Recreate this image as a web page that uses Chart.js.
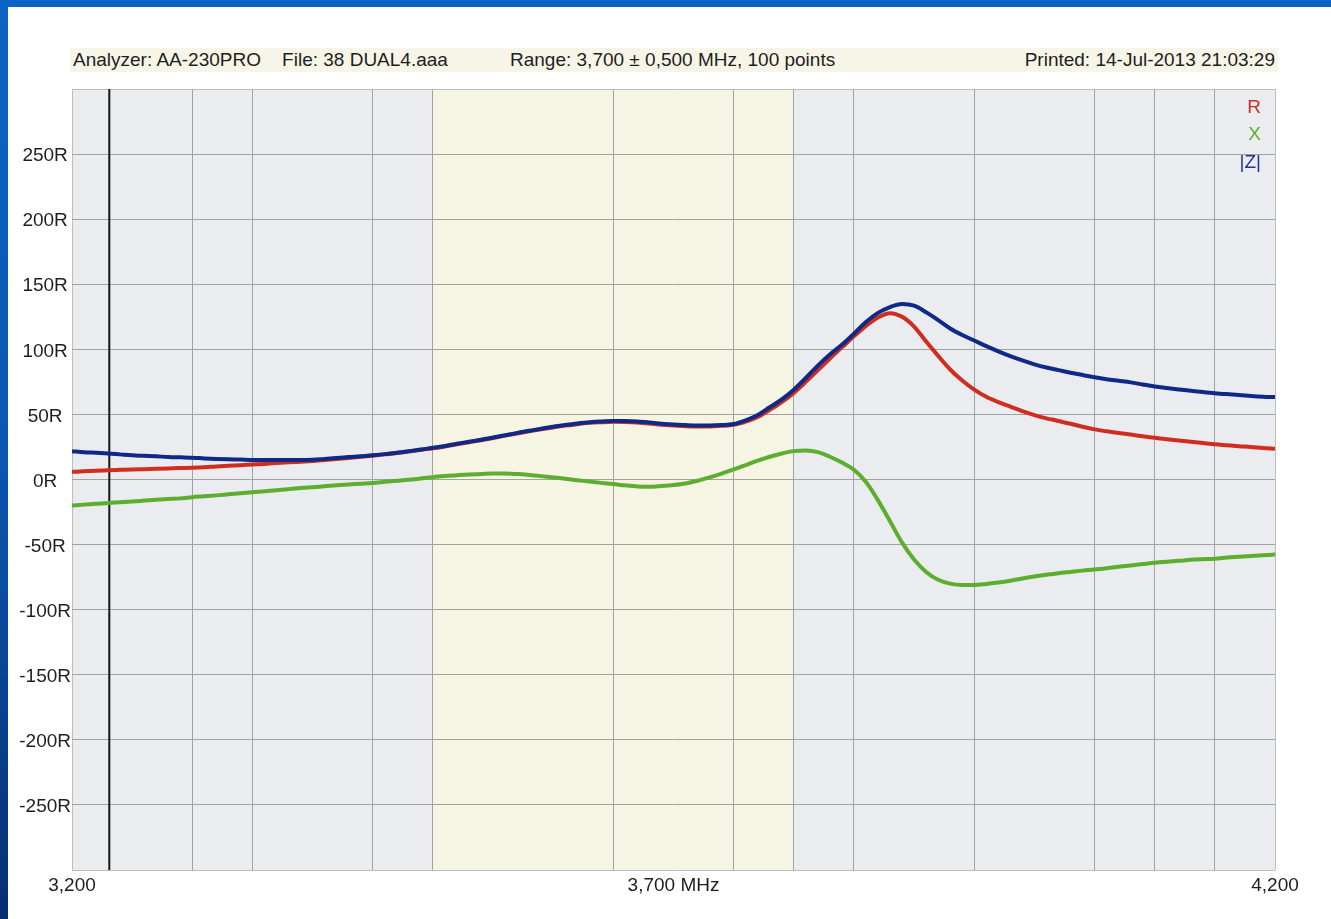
<!DOCTYPE html>
<html>
<head>
<meta charset="utf-8">
<title>AA-230PRO sweep 3.2 - 4.2 MHz</title>
<script src="https://cdn.jsdelivr.net/npm/chart.js@4.4.1/dist/chart.umd.min.js"></script>
<style>
  html, body { margin: 0; padding: 0; width: 1331px; height: 919px; overflow: hidden; }
  body {
    background: linear-gradient(180deg, #0c63c4 0%, #0a58b4 45%, #0a4fa6 60%, #062f72 100%);
    font-family: "Liberation Sans", Arial, sans-serif;
  }
  #panel { position: absolute; left: 8px; top: 7px; width: 1323px; height: 912px; background: #ffffff; }
  #hdr { position: absolute; left: 70px; top: 48px; width: 1208px; height: 24px; background: #f7f5e8; }
  .h { position: absolute; top: 49px; font-size: 19px; line-height: 22px; color: #1e1e1e; white-space: pre; }
  #wrap { position: absolute; left: 0; top: 0; width: 1331px; height: 919px; }
  .lg { position: absolute; right: 70px; font-size: 19px; line-height: 22px; }
</style>
</head>
<body>
<div id="panel"></div>
<div id="hdr"></div>
<div class="h" style="left:73px">Analyzer: AA-230PRO    File: 38 DUAL4.aaa</div>
<div class="h" style="left:510px">Range: 3,700 ± 0,500 MHz, 100 points</div>
<div class="h" style="right:56px">Printed: 14-Jul-2013 21:03:29</div>
<div id="wrap"><canvas id="c" width="1331" height="919"></canvas></div>
<div class="lg" style="top:96px;color:#cf2d1f">R</div>
<div class="lg" style="top:123px;color:#5cae2e">X</div>
<div class="lg" style="top:151px;color:#1b3692">|Z|</div>

<script>
// Sweep definition: 3,200 .. 4,200 kHz in 10 kHz steps
const sweepStart = 3200;
const sweepStep = 10;

// Resistance R (ohms)
const rValues = [
  5.9, 6.3, 6.8, 7.2, 7.4, 7.6, 7.9, 8.2, 8.5, 8.8,
  9.0, 9.4, 10.0, 10.5, 11.0, 11.5, 12.0, 12.6, 13.2, 13.7,
  14.2, 15.0, 15.8, 16.6, 17.4, 18.3, 19.3, 20.3, 21.5, 22.8,
  24.0, 25.4, 27.0, 28.6, 30.2, 31.9, 33.7, 35.4, 37.0, 38.6,
  40.0, 41.4, 42.5, 43.5, 44.0, 44.3, 44.2, 43.8, 43.0, 42.0,
  41.5, 41.0, 40.8, 40.8, 41.2, 42.0, 44.5, 48.0, 53.5, 59.5,
  66.5, 75.0, 84.0, 93.0, 101.5, 110.0, 118.0, 124.5, 127.8, 125.0,
  117.5, 106.0, 95.0, 84.5, 76.0, 69.0, 63.5, 59.5, 56.0, 52.5,
  49.5, 47.0, 45.0, 42.8, 40.5, 38.5, 37.0, 35.7, 34.5, 33.2,
  32.0, 31.0, 30.0, 29.0, 28.0, 27.0, 26.3, 25.6, 25.0, 24.2,
  23.6
];

// Reactance X (ohms)
const xValues = [
  -20.0, -19.3, -18.7, -18.0, -17.5, -16.9, -16.2, -15.5, -15.0, -14.5,
  -13.6, -12.9, -12.2, -11.4, -10.6, -9.8, -9.0, -8.2, -7.4, -6.6,
  -5.9, -5.2, -4.4, -3.8, -3.2, -2.6, -1.8, -1.0, -0.2, 0.8,
  1.8, 2.6, 3.3, 3.8, 4.2, 4.6, 4.6, 4.2, 3.5, 2.6,
  1.6, 0.6, -0.5, -1.6, -2.6, -3.5, -4.5, -5.3, -5.6, -5.0,
  -4.2, -3.0, -1.0, 1.6, 4.5, 7.7, 11.0, 14.5, 17.5, 20.0,
  21.8, 22.3, 21.0, 17.5, 13.0, 7.5, -2.0, -16.0, -32.0, -48.5,
  -61.5, -71.0, -77.0, -80.0, -81.0, -81.0, -80.2, -79.2, -77.8, -76.0,
  -74.5, -73.2, -72.0, -71.0, -70.0, -69.2, -68.2, -67.1, -66.0, -65.0,
  -64.0, -63.2, -62.5, -61.7, -61.2, -60.8, -60.0, -59.3, -58.7, -58.2,
  -57.7
];

// Impedance magnitude |Z| (ohms)
const zValues = [
  21.8, 21.0, 20.5, 20.0, 19.3, 18.6, 18.2, 17.8, 17.3, 17.0,
  16.7, 16.2, 15.8, 15.5, 15.3, 15.0, 15.0, 14.9, 15.0, 15.0,
  15.2, 15.8, 16.5, 17.2, 17.8, 18.6, 19.5, 20.6, 21.8, 23.0,
  24.4, 25.8, 27.5, 29.0, 30.5, 32.2, 34.0, 35.8, 37.4, 39.0,
  40.5, 41.8, 43.0, 44.0, 44.6, 44.9, 44.9, 44.6, 43.8, 42.8,
  42.3, 41.8, 41.5, 41.5, 41.8, 42.6, 45.5, 49.5, 55.5, 61.5,
  69.0, 78.0, 87.5, 96.0, 103.5, 112.0, 121.0, 128.0, 132.5, 134.8,
  133.5, 128.5, 122.5, 116.0, 111.0, 106.8, 102.5, 98.5, 94.8, 91.5,
  88.5, 86.0, 84.0, 82.0, 80.3, 78.5, 77.0, 75.8, 74.6, 73.0,
  71.5, 70.3, 69.2, 68.2, 67.2, 66.3, 65.6, 65.0, 64.2, 63.6,
  63.3
];

// Vertical grid positions (kHz) and the labelled ticks
const xGrid = [3200, 3300, 3350, 3450, 3500, 3650, 3700, 3750, 3800, 3850, 3950, 4050, 4100, 4150, 4200];
const xTickLabels = { 3200: '3,200', 3700: '3,700 MHz', 4200: '4,200' };
const xUnlined = [3700];

// Highlighted band and cursor marker (kHz)
const bandStart = 3500;
const bandEnd = 3800;
const markerFreq = 3231;

const freqs = rValues.map((_, i) => sweepStart + i * sweepStep);
const toPoints = vals => vals.map((v, i) => ({ x: freqs[i], y: v }));

const plotBackdrop = {
  id: 'plotBackdrop',
  beforeDraw(chart) {
    const { ctx, chartArea: a, scales: { x } } = chart;
    ctx.save();
    ctx.fillStyle = '#eaecef';
    ctx.fillRect(a.left, a.top, a.width, a.height);
    const x0 = x.getPixelForValue(bandStart);
    const x1 = x.getPixelForValue(bandEnd);
    ctx.fillStyle = '#f6f4e2';
    ctx.fillRect(x0, a.top, x1 - x0, a.height);
    ctx.restore();
  }
};

Chart.defaults.font.family = '"Liberation Sans", Arial, sans-serif';
Chart.defaults.font.size = 19;
Chart.defaults.color = '#1e1e1e';

const lineStyle = { pointRadius: 0, borderWidth: 4, fill: false, cubicInterpolationMode: 'monotone' };

new Chart(document.getElementById('c'), {
  type: 'line',
  data: {
    datasets: [
      Object.assign({ label: '|Z|', data: toPoints(zValues), borderColor: '#0f2a86', order: 0 }, lineStyle),
      Object.assign({ label: 'R', data: toPoints(rValues), borderColor: '#cf2d1f', order: 1 }, lineStyle),
      Object.assign({ label: 'X', data: toPoints(xValues), borderColor: '#5cae2e', order: 2 }, lineStyle),
      { label: 'cursor', data: [{ x: markerFreq, y: -300 }, { x: markerFreq, y: 300 }],
        borderColor: '#161616', borderWidth: 2, pointRadius: 0, order: 3 }
    ]
  },
  options: {
    responsive: false,
    animation: false,
    events: [],
    layout: { padding: { top: 89, right: 56, bottom: 9, left: 0 } },
    plugins: { legend: { display: false }, tooltip: { enabled: false } },
    scales: {
      x: {
        type: 'linear',
        min: 3200,
        max: 4200,
        afterBuildTicks(scale) { scale.ticks = xGrid.map(v => ({ value: v })); },
        afterFit(scale) { scale.height = 40; },
        border: { display: false },
        grid: {
          drawTicks: false,
          lineWidth: 1,
          color: c => {
            const v = c.tick && c.tick.value;
            if (xUnlined.includes(v)) return 'rgba(0,0,0,0)';
            if (v === 3200 || v === 4200) return '#bdbdbd';
            return '#a2a2a2';
          }
        },
        ticks: {
          autoSkip: false,
          maxRotation: 0,
          padding: 4,
          callback: v => xTickLabels[v] || ''
        }
      },
      y: {
        min: -300,
        max: 300,
        afterFit(scale) { scale.width = 72; },
        border: { display: false },
        grid: {
          drawTicks: false,
          lineWidth: 1,
          color: c => (c.tick && Math.abs(c.tick.value) === 300) ? '#bdbdbd' : '#a2a2a2'
        },
        ticks: {
          stepSize: 50,
          crossAlign: 'center',
          padding: 1,
          labelOffset: 2,
          callback: v => (Math.abs(v) === 300 ? '' : v + 'R')
        }
      }
    }
  },
  plugins: [plotBackdrop]
});
</script>
</body>
</html>
